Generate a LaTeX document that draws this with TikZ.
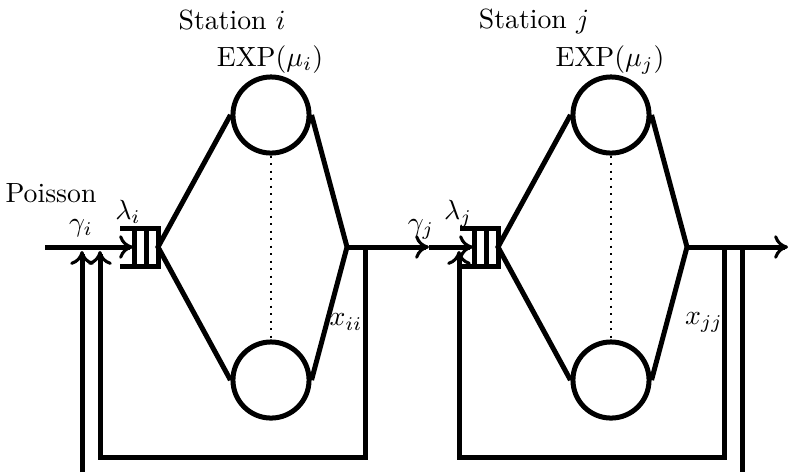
\documentclass[tikz,border=0pt]{standalone}
\usetikzlibrary{arrows.meta}
\begin{document}
\begin{tikzpicture}[x=0.36pt,y=-0.36pt,
  flow/.style={line width=1.8pt},
  tip/.style={-{To[length=5pt,width=8.5pt,line width=1.1pt]}},
  server/.style={circle,draw,line width=1.8pt,minimum size=27.4pt,inner sep=0pt},
  sep/.style={dotted,line width=0.7pt},
  lbl/.style={inner sep=0pt},
  queue/.pic={
    \draw[flow] (-38,-19) -- (0,-19) -- (0,19) -- (-38,19);
    \draw[flow] (-24,-19) -- (-24,19) (-12,-19) -- (-12,19);
  }]
\useasboundingbox (0,0) rectangle (789,472);

% ---------- station i ----------
\coordinate (srcI) at (45,247);
\coordinate (headI) at (133,247);
\coordinate (qI) at (158,247);
\pic at (qI) {queue};
\node[server] (tI) at (271,115) {};
\node[server] (bI) at (271,380) {};
\coordinate (jI) at (347,247);
\draw[flow] (tI.west) -- (qI) -- (bI.west);
\draw[flow] (tI.east) -- (jI) -- (bI.east);
\draw[sep] (tI.south) -- (bI.north);
\draw[flow,tip] (srcI) -- (headI);

% feedback of station i and the outside input
\coordinate (fbI) at (365,247);
\coordinate (cI) at (100,457);
\coordinate (rI) at (100,251);
\draw[flow,tip] (fbI) |- (cI) -- (rI);
\coordinate (extI) at (82,472);
\coordinate (eI) at (82,251);
\draw[flow,tip] (extI) -- (eI);

% ---------- link i -> j ----------
\coordinate (gJ) at (429,247);
\draw[flow,tip] (jI) -- (gJ);

% ---------- station j ----------
\coordinate (headJ) at (473,247);
\coordinate (qJ) at (498,247);
\pic at (qJ) {queue};
\node[server] (tJ) at (611,115) {};
\node[server] (bJ) at (611,380) {};
\coordinate (jJ) at (687,247);
\draw[flow] (tJ.west) -- (qJ) -- (bJ.west);
\draw[flow] (tJ.east) -- (jJ) -- (bJ.east);
\draw[sep] (tJ.south) -- (bJ.north);
\draw[flow,tip] (gJ) -- (headJ);

% feedback of station j, outputs
\coordinate (fbJ) at (724,247);
\coordinate (cJ) at (459,457);
\coordinate (rJ) at (459,251);
\draw[flow,tip] (fbJ) |- (cJ) -- (rJ);
\coordinate (outJ) at (788,247);
\draw[flow,tip] (jJ) -- (outJ);
\coordinate (dJ) at (742,247);
\coordinate (sinkJ) at (742,472);
\draw[flow] (dJ) -- (sinkJ);

% ---------- labels ----------
\node[lbl,anchor=base] (poisson) at (51,202) {Poisson};
\node[lbl] (gammaI) at (81,228) {$\gamma_i$};
\node[lbl] (lambdaI) at (128,212) {$\lambda_i$};
\node[lbl,anchor=base] (stI) at (232,29) {Station $i$};
\node[lbl,anchor=base] (expI) at (270,66) {EXP$(\mu_i)$};
\node[lbl] (xii) at (346,322) {$x_{ii}$};
\node[lbl] (gammaJ) at (421,229) {$\gamma_j$};
\node[lbl] (lambdaJ) at (458,214) {$\lambda_j$};
\node[lbl,anchor=base] (stJ) at (534,28) {Station $j$};
\node[lbl,anchor=base] (expJ) at (610,66) {EXP$(\mu_j)$};
\node[lbl] (xjj) at (704,322) {$x_{jj}$};
\end{tikzpicture}
\end{document}
